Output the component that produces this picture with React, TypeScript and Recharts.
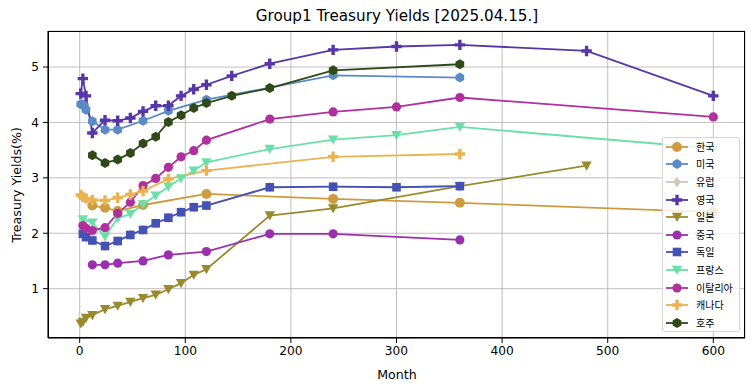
import React from "react";
import {
  LineChart,
  Line,
  XAxis,
  YAxis,
  CartesianGrid,
} from "recharts";

// months to maturity per country, yields in %
const KR_MONTHS = [12, 24, 36, 60, 120, 240, 360, 600];
const KR_YIELDS = [2.5, 2.46, 2.4, 2.51, 2.71, 2.62, 2.55, 2.38];

const US_MONTHS = [1, 2, 3, 4, 6, 12, 24, 36, 60, 84, 120, 240, 360];
const US_YIELDS = [4.33, 4.33, 4.32, 4.3, 4.23, 4.02, 3.87, 3.87, 4.03, 4.21, 4.41, 4.85, 4.81];

const DE_MONTHS = [3, 6, 12, 24, 36, 48, 60, 72, 84, 96, 108, 120, 180, 240, 300, 360];
const DE_YIELDS = [1.99, 1.93, 1.87, 1.77, 1.86, 1.97, 2.06, 2.18, 2.28, 2.38, 2.47, 2.5, 2.83, 2.84, 2.83, 2.85];

// europe sits underneath germany in the picture
const EU_MONTHS = DE_MONTHS;
const EU_YIELDS = DE_YIELDS;

const UK_MONTHS = [1, 3, 6, 12, 24, 36, 48, 60, 72, 84, 96, 108, 120, 144, 180, 240, 300, 360, 480, 600];
const UK_YIELDS = [4.52, 4.79, 4.48, 3.81, 4.04, 4.03, 4.08, 4.2, 4.3, 4.3, 4.48, 4.6, 4.68, 4.84, 5.06, 5.31, 5.37, 5.4, 5.29, 4.48];

const JP_MONTHS = [1, 3, 6, 12, 24, 36, 48, 60, 72, 84, 96, 108, 120, 180, 240, 360, 480];
const JP_YIELDS = [0.37, 0.4, 0.47, 0.52, 0.63, 0.69, 0.76, 0.83, 0.89, 0.99, 1.1, 1.25, 1.35, 2.32, 2.45, 2.85, 3.22];

const CN_MONTHS = [12, 24, 36, 60, 84, 120, 180, 240, 360];
const CN_YIELDS = [1.43, 1.43, 1.46, 1.5, 1.61, 1.67, 1.99, 1.99, 1.88];

const FR_MONTHS = [3, 12, 24, 36, 48, 60, 72, 84, 96, 108, 120, 180, 240, 300, 360, 600];
const FR_YIELDS = [2.25, 2.19, 1.94, 2.27, 2.35, 2.52, 2.68, 2.84, 2.99, 3.13, 3.28, 3.52, 3.69, 3.77, 3.92, 3.53];

const IT_MONTHS = [3, 6, 12, 24, 36, 48, 60, 72, 84, 96, 108, 120, 180, 240, 300, 360, 600];
const IT_YIELDS = [2.14, 2.09, 2.05, 2.1, 2.36, 2.56, 2.86, 2.99, 3.19, 3.38, 3.49, 3.68, 4.06, 4.19, 4.28, 4.45, 4.1];

const CA_MONTHS = [1, 3, 6, 12, 24, 36, 48, 60, 84, 120, 240, 360];
const CA_YIELDS = [2.69, 2.66, 2.63, 2.6, 2.59, 2.64, 2.7, 2.76, 2.98, 3.13, 3.38, 3.43];

const AU_MONTHS = [12, 24, 36, 48, 60, 72, 84, 96, 108, 120, 144, 180, 240, 360];
const AU_YIELDS = [3.41, 3.27, 3.33, 3.45, 3.62, 3.74, 4.01, 4.13, 4.26, 4.35, 4.48, 4.62, 4.94, 5.05];

const X_TICKS = [0, 100, 200, 300, 400, 500, 600];
const Y_TICKS = [1, 2, 3, 4, 5];

const toPoints = (months: number[], yields: number[]) =>
  months.map((m, i) => ({ month: m, value: yields[i] }));

type Shape = "o" | "h" | "d" | "P" | "v" | "s";

const SERIES: { name: string; color: string; shape: Shape; r?: number; pts: { month: number; value: number }[] }[] = [
  { name: "한국", color: "#CE9B3F", shape: "o", r: 5, pts: toPoints(KR_MONTHS, KR_YIELDS) },
  { name: "미국", color: "#5B8BC6", shape: "h", pts: toPoints(US_MONTHS, US_YIELDS) },
  { name: "유럽", color: "#D2C6BA", shape: "d", pts: toPoints(EU_MONTHS, EU_YIELDS) },
  { name: "영국", color: "#5736A8", shape: "P", pts: toPoints(UK_MONTHS, UK_YIELDS) },
  { name: "일본", color: "#998A2E", shape: "v", pts: toPoints(JP_MONTHS, JP_YIELDS) },
  { name: "중국", color: "#9B30AE", shape: "o", pts: toPoints(CN_MONTHS, CN_YIELDS) },
  { name: "독일", color: "#4452B4", shape: "s", pts: toPoints(DE_MONTHS, DE_YIELDS) },
  { name: "프랑스", color: "#6ADFA8", shape: "v", pts: toPoints(FR_MONTHS, FR_YIELDS) },
  { name: "이탈리아", color: "#B0309E", shape: "o", pts: toPoints(IT_MONTHS, IT_YIELDS) },
  { name: "캐나다", color: "#EBB252", shape: "P", pts: toPoints(CA_MONTHS, CA_YIELDS) },
  { name: "호주", color: "#2F4A17", shape: "h", pts: toPoints(AU_MONTHS, AU_YIELDS) },
];

const FONT = "'DejaVu Sans', sans-serif";

function MarkerShape({ shape, cx, cy, color, r = 4.6 }: { shape: Shape; cx: number; cy: number; color: string; r?: number }) {
  if (cx == null || cy == null) return null;
  switch (shape) {
    case "o":
      return <circle cx={cx} cy={cy} r={r} fill={color} />;
    case "h": {
      const pts = [0, 1, 2, 3, 4, 5]
        .map((k) => {
          const a = (Math.PI / 3) * k - Math.PI / 2;
          return `${cx + 5 * Math.cos(a)},${cy + 5 * Math.sin(a)}`;
        })
        .join(" ");
      return <polygon points={pts} fill={color} />;
    }
    case "d":
      return <polygon points={`${cx},${cy - 5.5} ${cx + 3.6},${cy} ${cx},${cy + 5.5} ${cx - 3.6},${cy}`} fill={color} />;
    case "P": {
      const a = 5.2;
      const t = 1.7;
      return (
        <polygon
          points={`${cx - t},${cy - a} ${cx + t},${cy - a} ${cx + t},${cy - t} ${cx + a},${cy - t} ${cx + a},${cy + t} ${cx + t},${cy + t} ${cx + t},${cy + a} ${cx - t},${cy + a} ${cx - t},${cy + t} ${cx - a},${cy + t} ${cx - a},${cy - t} ${cx - t},${cy - t}`}
          fill={color}
        />
      );
    }
    case "v":
      return <polygon points={`${cx - 5.2},${cy - 4.2} ${cx + 5.2},${cy - 4.2} ${cx},${cy + 5}`} fill={color} />;
    case "s":
      return <rect x={cx - 4.3} y={cy - 4.3} width={8.6} height={8.6} fill={color} />;
  }
  return null;
}

function LegendBox() {
  return (
    <div
      style={{
        position: "absolute",
        left: 662,
        top: 137,
        width: 78,
        height: 195,
        boxSizing: "border-box",
        border: "1px solid #d6d6d6",
        borderRadius: 3,
        background: "rgba(255,255,255,0.8)",
        fontFamily: "'Noto Sans CJK KR', sans-serif",
        fontSize: 10,
      }}
    >
      {SERIES.map((s) => (
        <div key={s.name} style={{ height: 17.6, display: "flex", alignItems: "center" }}>
          <svg width={30} height={14} style={{ marginLeft: 2, flex: "none" }}>
            <line x1={1} y1={7} x2={23} y2={7} stroke={s.color} strokeWidth={1.8} />
            <MarkerShape shape={s.shape} cx={12} cy={7} color={s.color} r={s.r} />
          </svg>
          <span style={{ marginLeft: 1, lineHeight: "12px", color: "#000" }}>{s.name}</span>
        </div>
      ))}
    </div>
  );
}

export default function App() {
  return (
    <div style={{ position: "absolute", left: 0, top: 0, width: 755, height: 391, background: "#fff", fontFamily: FONT }}>
      <div
        style={{
          position: "absolute",
          left: 48,
          width: 698,
          top: 7,
          textAlign: "center",
          fontSize: 15.2,
          lineHeight: "18px",
          color: "#000",
        }}
      >
        Group1 Treasury Yields [2025.04.15.]
      </div>
      <LineChart width={755} height={391} margin={{ top: 31, right: 10, bottom: 0, left: 0 }}>
        <CartesianGrid stroke="#b0b0b0" strokeWidth={0.8} />
        <XAxis
          type="number"
          dataKey="month"
          domain={[-30, 630]}
          ticks={X_TICKS}
          allowDataOverflow
          height={53}
          tickSize={5}
          tickMargin={3}
          stroke="#000"
          tick={{ fill: "#000", fontSize: 12.2, fontFamily: FONT }}
        />
        <YAxis
          type="number"
          dataKey="value"
          domain={[0.11, 5.65]}
          ticks={Y_TICKS}
          allowDataOverflow
          width={48}
          tickSize={5}
          tickMargin={4}
          stroke="#000"
          tick={{ fill: "#000", fontSize: 12.2, fontFamily: FONT }}
        />
        {SERIES.map((s) => (
          <Line
            key={s.name}
            data={s.pts}
            dataKey="value"
            name={s.name}
            type="linear"
            stroke={s.color}
            strokeWidth={1.8}
            isAnimationActive={false}
            activeDot={false}
            dot={(p: any) => (
              <MarkerShape key={`${s.name}-${p.index}`} shape={s.shape} cx={p.cx} cy={p.cy} color={s.color} r={s.r} />
            )}
          />
        ))}
      </LineChart>
      {/* plot frame */}
      <div
        style={{
          position: "absolute",
          left: 48,
          top: 31,
          width: 697,
          height: 307,
          border: "1px solid #000",
          boxSizing: "border-box",
          marginLeft: -0.5,
          pointerEvents: "none",
        }}
      />
      <LegendBox />
      <div
        style={{
          position: "absolute",
          left: 48,
          width: 698,
          top: 367,
          textAlign: "center",
          fontSize: 12.6,
          lineHeight: "16px",
          color: "#000",
        }}
      >
        Month
      </div>
      <div
        style={{
          position: "absolute",
          left: 17,
          top: 185,
          transform: "translate(-50%, -50%) rotate(-90deg)",
          whiteSpace: "nowrap",
          fontSize: 12.6,
          lineHeight: "16px",
          color: "#000",
        }}
      >
        Treasury Yields(%)
      </div>
    </div>
  );
}
